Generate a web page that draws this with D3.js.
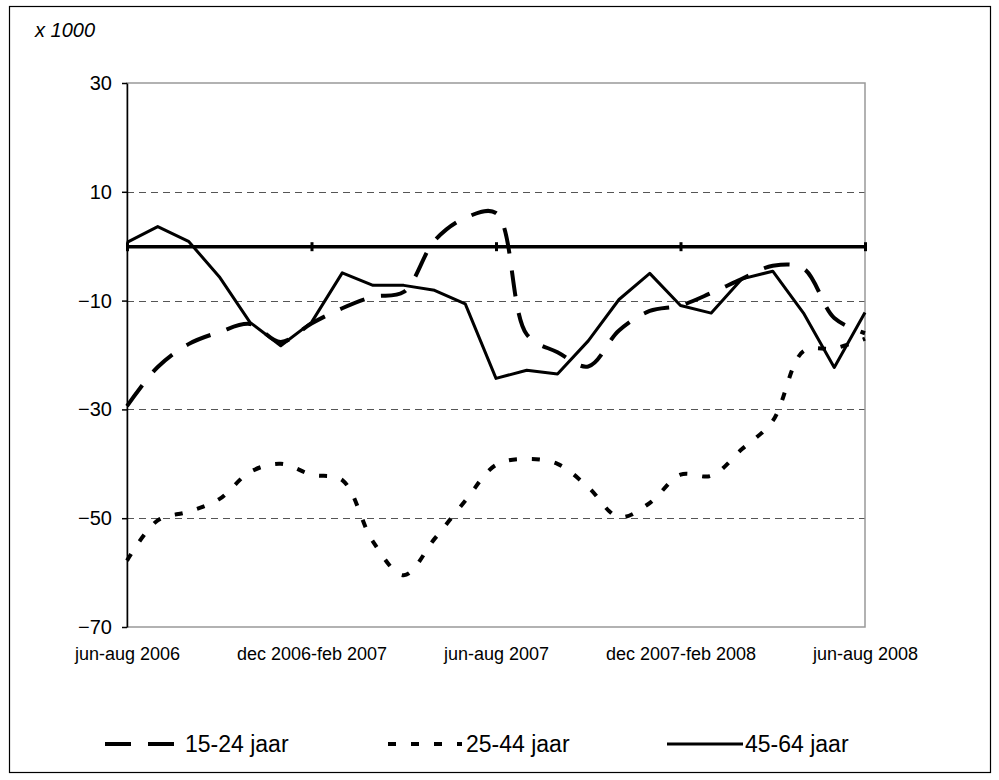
<!DOCTYPE html>
<html>
<head>
<meta charset="utf-8">
<script src="https://d3js.org/d3.v7.min.js"></script>
<style>
  body { margin: 0; background: #fff; }
  svg { display: block; font-family: "Liberation Sans", Arial, sans-serif; }
  .grid { stroke: #555; stroke-width: 1; stroke-dasharray: 7,5; shape-rendering: crispEdges; }
  .y.axis text { font-size: 20px; fill: #000; }
  .y.axis line, .y.axis path { stroke: #000; stroke-width: 1.5; }
  .x.labels text { font-size: 18px; fill: #000; }
  .legend text { font-size: 23px; fill: #000; }
</style>
</head>
<body>
<div id="svgDiv"></div>
<script>

// rolling 3-month periods
var periods = ['jun-aug 2006', 'jul-sep 2006', 'aug-okt 2006', 'sep-nov 2006', 'okt-dec 2006',
  'nov 2006-jan 2007', 'dec 2006-feb 2007', 'jan-mrt 2007', 'feb-apr 2007', 'mrt-mei 2007',
  'apr-jun 2007', 'mei-jul 2007', 'jun-aug 2007', 'jul-sep 2007', 'aug-okt 2007',
  'sep-nov 2007', 'okt-dec 2007', 'nov 2007-jan 2008', 'dec 2007-feb 2008', 'jan-mrt 2008',
  'feb-apr 2008', 'mrt-mei 2008', 'apr-jun 2008', 'mei-jul 2008', 'jun-aug 2008'];

var shownLabels = ['jun-aug 2006', 'dec 2006-feb 2007', 'jun-aug 2007', 'dec 2007-feb 2008', 'jun-aug 2008'];

var yTicks = [30, 10, -10, -30, -50, -70];
var gridTicks = [10, -10, -30, -50];

// x 1000
var age1524 = [-29.4, -22.2, -18.0, -15.8, -14.3, -17.6, -14.2, -11.4, -9.3, -8.4, 1.0, 5.2, 6.1,
  -16.2, -19.5, -22.1, -15.5, -11.9, -10.9, -8.6, -6.0, -3.6, -4.1, -13.2, -16.0];
var age2544 = [-57.8, -50.4, -48.8, -46.5, -41.5, -40.0, -42.0, -43.0, -54.3, -60.5, -53.8, -46.8, -40.2,
  -39.1, -40.0, -44.3, -49.8, -47.2, -42.0, -42.2, -37.3, -32.1, -19.3, -18.8, -17.0];
var age4564 = [0.7, 3.6, 0.9, -5.6, -14.0, -18.3, -14.0, -4.9, -7.2, -7.2, -8.1, -10.6, -24.3,
  -22.8, -23.5, -17.4, -9.8, -5.0, -10.9, -12.3, -6.0, -4.6, -12.3, -22.3, -12.2];

var seriesNames = ['15-24 jaar', '25-44 jaar', '45-64 jaar'];

var margin = {top: 83, right: 134, bottom: 153, left: 127};
var w = 999, h = 780;
var width = w - margin.left - margin.right,
    height = h - margin.top - margin.bottom;

var xScale = d3.scalePoint()
  .domain(periods)
  .range([margin.left, margin.left + width]);

var yScale = d3.scaleLinear()
  .domain([-70, 30])
  .range([margin.top + height, margin.top]);

var svg = d3.select("#svgDiv").append("svg")
  .attr("width", w)
  .attr("height", h);

// outer chart border
svg.append("rect")
  .attr("x", 9.5).attr("y", 6.5)
  .attr("width", 981).attr("height", 766)
  .attr("fill", "none")
  .attr("stroke", "#000")
  .attr("stroke-width", 1.2);

svg.append("text")
  .attr("x", 35).attr("y", 37)
  .style("font-size", "20px")
  .style("font-style", "italic")
  .text("x 1000");

// dashed gridlines
svg.selectAll("line.grid")
  .data(gridTicks)
  .enter()
  .append("line")
  .attr("class", "grid")
  .attr("x1", margin.left)
  .attr("x2", margin.left + width)
  .attr("y1", function(d) { return Math.round(yScale(d)) + 0.5; })
  .attr("y2", function(d) { return Math.round(yScale(d)) + 0.5; });

// plot frame (grey)
svg.append("rect")
  .attr("x", margin.left).attr("y", margin.top)
  .attr("width", width).attr("height", height)
  .attr("fill", "none")
  .attr("stroke", "#999")
  .attr("stroke-width", 1.5);

// y axis
var yAxis = d3.axisLeft(yScale)
  .tickValues(yTicks)
  .tickSizeInner(5)
  .tickSizeOuter(0)
  .tickPadding(10);

svg.append("g")
  .attr("class", "y axis")
  .attr("transform", "translate(" + margin.left + ",0)")
  .call(yAxis);

// category labels at the bottom
var xLabels = d3.axisBottom(xScale)
  .tickValues(shownLabels)
  .tickSize(0)
  .tickPadding(20);

svg.append("g")
  .attr("class", "x labels")
  .attr("transform", "translate(0," + (margin.top + height) + ")")
  .call(xLabels)
  .call(function(g) { g.select(".domain").remove(); });

// x axis crossing at zero: thick line with tick marks
var xAxis = d3.axisBottom(xScale)
  .tickValues(shownLabels)
  .tickSizeInner(5)
  .tickSizeOuter(0)
  .tickFormat("");

var zeroAxis = svg.append("g")
  .attr("class", "x axis")
  .attr("transform", "translate(0," + yScale(0) + ")")
  .call(xAxis);

zeroAxis.select(".domain").attr("stroke", "#000").attr("stroke-width", 3.5);
zeroAxis.selectAll(".tick line")
  .attr("y1", -4)
  .attr("stroke", "#000")
  .attr("stroke-width", 3);

// series
var series = [
  {name: seriesNames[0], values: age1524, dash: "26,17", sw: 4, curve: d3.curveCatmullRom.alpha(0.5)},
  {name: seriesNames[1], values: age2544, dash: "8,15", sw: 4, curve: d3.curveCatmullRom.alpha(0.5)},
  {name: seriesNames[2], values: age4564, dash: null, sw: 3, curve: d3.curveLinear}
];

series.forEach(function(s) {
  var line = d3.line()
    .x(function(d, i) { return xScale(periods[i]); })
    .y(function(d) { return yScale(d); })
    .curve(s.curve);

  svg.append("path")
    .datum(s.values)
    .attr("fill", "none")
    .attr("stroke", "#000")
    .attr("stroke-width", s.sw)
    .attr("stroke-dasharray", s.dash)
    .attr("stroke-linejoin", "round")
    .attr("d", line);
});

// legend
var legendX = [105, 388, 667];
var legendY = 744;

var legend = svg.selectAll("g.legend")
  .data(series)
  .enter()
  .append("g")
  .attr("class", "legend")
  .attr("transform", function(d, i) { return "translate(" + legendX[i] + "," + legendY + ")"; });

legend.append("line")
  .attr("x1", 0).attr("x2", function(d, i) { return i == 1 ? 74 : 76; })
  .attr("y1", 0).attr("y2", 0)
  .attr("stroke", "#000")
  .attr("stroke-width", function(d) { return d.sw; })
  .attr("stroke-dasharray", function(d) { return d.dash; });

legend.append("text")
  .attr("x", function(d, i) { return i == 0 ? 80 : 78; })
  .attr("y", 8)
  .text(function(d) { return d.name; });

</script>
</body>
</html>
